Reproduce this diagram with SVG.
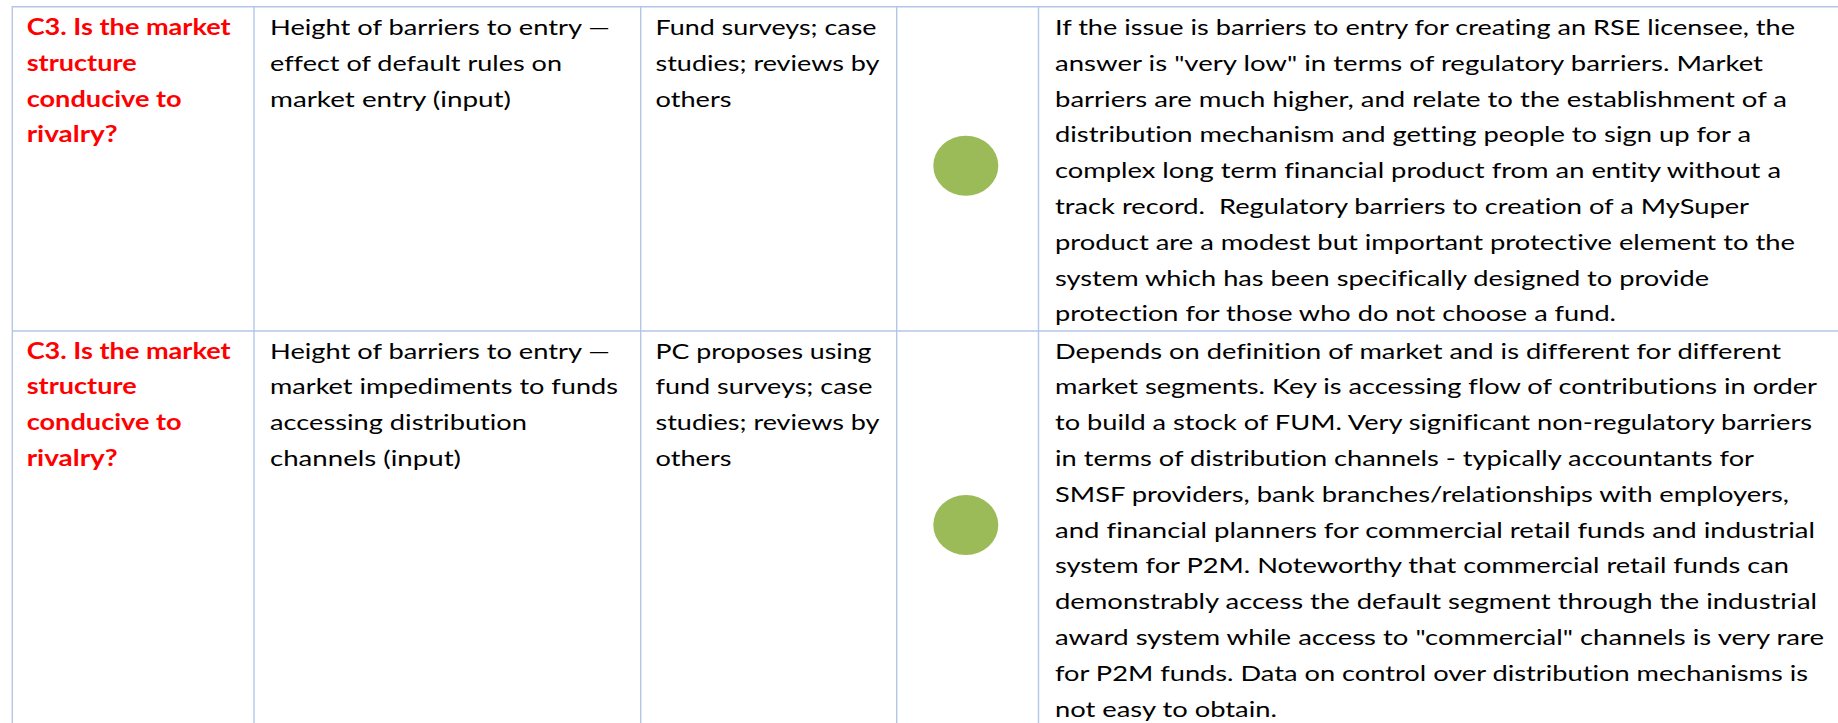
<svg xmlns="http://www.w3.org/2000/svg" width="1838" height="723" viewBox="0 0 1838 723">
<style>
.t{font-family:Lato,"Open Sans","Liberation Sans",sans-serif;font-size:22px;fill:#000;white-space:pre;font-variant-ligatures:none}
.h{font-family:Lato,"Open Sans","Liberation Sans",sans-serif;font-size:22px;font-weight:bold;fill:#ff0000;font-variant-ligatures:none}
.g{stroke:#b4c6e7;stroke-width:1.4;fill:none}
.dot{fill:#9bbb59}
</style>
<rect width="1838" height="723" fill="#fff"/>
<g id="grid">
<line class="g" x1="12" y1="6.7" x2="1838" y2="6.7"/>
<line class="g" x1="12" y1="331" x2="1838" y2="331"/>
<line class="g" x1="12.3" y1="6" x2="12.3" y2="723"/>
<line class="g" x1="254" y1="6" x2="254" y2="723"/>
<line class="g" x1="640.7" y1="6" x2="640.7" y2="723"/>
<line class="g" x1="896.7" y1="6" x2="896.7" y2="723"/>
<line class="g" x1="1038.5" y1="6" x2="1038.5" y2="723"/>
</g>
<g id="r1c1">
<text class="h" x="26.7" y="35" textLength="204" lengthAdjust="spacingAndGlyphs">C3. Is the market</text>
<text class="h" x="26.7" y="70.8" textLength="110" lengthAdjust="spacingAndGlyphs">structure</text>
<text class="h" x="26.7" y="106.6" textLength="155" lengthAdjust="spacingAndGlyphs">conducive to</text>
<text class="h" x="26.7" y="142.4" textLength="91" lengthAdjust="spacingAndGlyphs">rivalry?</text>
</g>
<g id="r1c2">
<text class="t" x="270" y="35" textLength="340" lengthAdjust="spacingAndGlyphs">Height of barriers to entry —</text>
<text class="t" x="270" y="70.8" textLength="292" lengthAdjust="spacingAndGlyphs">effect of default rules on</text>
<text class="t" x="270" y="106.6" textLength="241" lengthAdjust="spacingAndGlyphs">market entry (input)</text>
</g>
<g id="r1c3">
<text class="t" x="655.5" y="35" textLength="221" lengthAdjust="spacingAndGlyphs">Fund surveys; case</text>
<text class="t" x="655.5" y="70.8" textLength="224" lengthAdjust="spacingAndGlyphs">studies; reviews by</text>
<text class="t" x="655.5" y="106.6" textLength="76" lengthAdjust="spacingAndGlyphs">others</text>
</g>
<g id="r1c4">
<ellipse class="dot" cx="965.8" cy="165.8" rx="32.5" ry="30"/>
</g>
<g id="r1c5">
<text class="t" x="1055" y="35" textLength="740" lengthAdjust="spacingAndGlyphs">If the issue is barriers to entry for creating an RSE licensee, the</text>
<text class="t" x="1055" y="70.8" textLength="708" lengthAdjust="spacingAndGlyphs">answer is "very low" in terms of regulatory barriers. Market</text>
<text class="t" x="1055" y="106.6" textLength="732" lengthAdjust="spacingAndGlyphs">barriers are much higher, and relate to the establishment of a</text>
<text class="t" x="1055" y="142.4" textLength="696" lengthAdjust="spacingAndGlyphs">distribution mechanism and getting people to sign up for a</text>
<text class="t" x="1055" y="178.2" textLength="726" lengthAdjust="spacingAndGlyphs">complex long term financial product from an entity without a</text>
<text class="t" x="1055" y="214" textLength="694" lengthAdjust="spacingAndGlyphs">track record.  Regulatory barriers to creation of a MySuper</text>
<text class="t" x="1055" y="249.8" textLength="740" lengthAdjust="spacingAndGlyphs">product are a modest but important protective element to the</text>
<text class="t" x="1055" y="285.6" textLength="654" lengthAdjust="spacingAndGlyphs">system which has been specifically designed to provide</text>
<text class="t" x="1055" y="321.4" textLength="561" lengthAdjust="spacingAndGlyphs">protection for those who do not choose a fund.</text>
</g>
<g id="r2c1">
<text class="h" x="26.7" y="358.5" textLength="204" lengthAdjust="spacingAndGlyphs">C3. Is the market</text>
<text class="h" x="26.7" y="394.3" textLength="110" lengthAdjust="spacingAndGlyphs">structure</text>
<text class="h" x="26.7" y="430.1" textLength="155" lengthAdjust="spacingAndGlyphs">conducive to</text>
<text class="h" x="26.7" y="465.9" textLength="91" lengthAdjust="spacingAndGlyphs">rivalry?</text>
</g>
<g id="r2c2">
<text class="t" x="270" y="358.5" textLength="340" lengthAdjust="spacingAndGlyphs">Height of barriers to entry —</text>
<text class="t" x="270" y="394.3" textLength="348" lengthAdjust="spacingAndGlyphs">market impediments to funds</text>
<text class="t" x="270" y="430.1" textLength="257" lengthAdjust="spacingAndGlyphs">accessing distribution</text>
<text class="t" x="270" y="465.9" textLength="191" lengthAdjust="spacingAndGlyphs">channels (input)</text>
</g>
<g id="r2c3">
<text class="t" x="655.5" y="358.5" textLength="216" lengthAdjust="spacingAndGlyphs">PC proposes using</text>
<text class="t" x="655.5" y="394.3" textLength="217" lengthAdjust="spacingAndGlyphs">fund surveys; case</text>
<text class="t" x="655.5" y="430.1" textLength="224" lengthAdjust="spacingAndGlyphs">studies; reviews by</text>
<text class="t" x="655.5" y="465.9" textLength="76" lengthAdjust="spacingAndGlyphs">others</text>
</g>
<g id="r2c4">
<ellipse class="dot" cx="965.8" cy="525" rx="32.5" ry="30"/>
</g>
<g id="r2c5">
<text class="t" x="1055" y="358.5" textLength="726" lengthAdjust="spacingAndGlyphs">Depends on definition of market and is different for different</text>
<text class="t" x="1055" y="394.3" textLength="762" lengthAdjust="spacingAndGlyphs">market segments. Key is accessing flow of contributions in order</text>
<text class="t" x="1055" y="430.1" textLength="757" lengthAdjust="spacingAndGlyphs">to build a stock of FUM. Very significant non-regulatory barriers</text>
<text class="t" x="1055" y="465.9" textLength="699" lengthAdjust="spacingAndGlyphs">in terms of distribution channels - typically accountants for</text>
<text class="t" x="1055" y="501.7" textLength="734" lengthAdjust="spacingAndGlyphs">SMSF providers, bank branches/relationships with employers,</text>
<text class="t" x="1055" y="537.5" textLength="760" lengthAdjust="spacingAndGlyphs">and financial planners for commercial retail funds and industrial</text>
<text class="t" x="1055" y="573.3" textLength="734" lengthAdjust="spacingAndGlyphs">system for P2M. Noteworthy that commercial retail funds can</text>
<text class="t" x="1055" y="609.1" textLength="762" lengthAdjust="spacingAndGlyphs">demonstrably access the default segment through the industrial</text>
<text class="t" x="1055" y="644.9" textLength="769" lengthAdjust="spacingAndGlyphs">award system while access to "commercial" channels is very rare</text>
<text class="t" x="1055" y="680.7" textLength="753" lengthAdjust="spacingAndGlyphs">for P2M funds. Data on control over distribution mechanisms is</text>
<text class="t" x="1055" y="716.5" textLength="222" lengthAdjust="spacingAndGlyphs">not easy to obtain.</text>
</g>
</svg>
